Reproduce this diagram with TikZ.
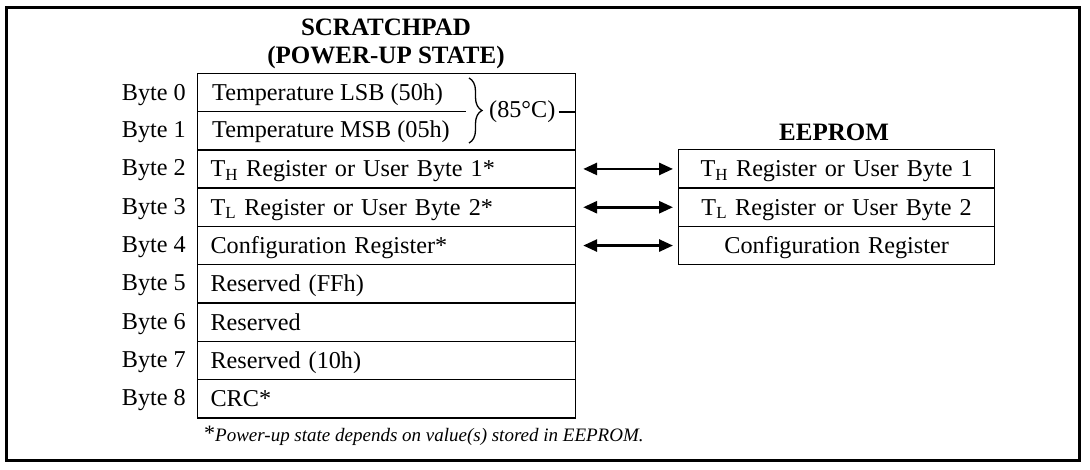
\documentclass[tikz,border=0pt]{standalone}
\usepackage{fontspec}
\setmainfont{Liberation Serif}
\usetikzlibrary{decorations.pathreplacing,arrows.meta}
\begin{document}
\begin{tikzpicture}[x=1pt,y=-1pt,
  txt/.style={font=\fontsize{24.2}{28}\selectfont, inner sep=0pt},
  ttl/.style={font=\fontsize{25}{28}\selectfont\bfseries, inner sep=0pt, align=center},
  bytelbl/.style={txt, anchor=base east},
  cell/.style={txt, draw, line width=1.2pt, anchor=north west, minimum height=38.3pt,
    text height=19pt, text depth=3pt},
  scell/.style={cell, minimum width=378pt, text width=352pt, inner xsep=13pt, align=left},
  ecell/.style={cell, minimum width=316pt, text width=316pt, align=center},
  link/.style={line width=2.8pt, {Triangle[length=14pt,width=12pt]}-{Triangle[length=14pt,width=12pt]},
    shorten <=7pt, shorten >=5pt}
]
% page and outer frame
\useasboundingbox (0,0) rectangle (1090,470);
\draw[line width=3pt] (6,8) rectangle (1079,460);

% scratchpad heading
\node[ttl] (shead) at (386,44) {SCRATCHPAD\\(POWER-UP STATE)};

% bytes 0 and 1 share one frame, split by a short rule
\node[draw, line width=1.2pt, anchor=north west, minimum width=378pt, minimum height=76.6pt, inner sep=0pt] (s01) at (197,73) {};
\node[txt, anchor=base west] (s0) at (212,101) {Temperature LSB (50h)};
\node[txt, anchor=base west] (s1) at (212,138) {Temperature MSB (05h)};
\coordinate (midL) at (197,111.3);
\coordinate (midR) at (466,111.3);
\draw[line width=1.2pt] (midL) -- (midR);

% brace grouping the temperature bytes
\coordinate (brT) at (469,78);
\coordinate (brB) at (469,143);
\draw[line width=1.3pt, decoration={brace, amplitude=13pt}, decorate] (brT) -- (brB);
\node[txt, anchor=west] (t85) at (489,112) {(85°C)};
\draw[line width=1.2pt] ([xshift=3pt]t85.east) -- (t85.east -| s01.east);

% remaining scratchpad bytes
\node[scell] (s2) at (197,149.2) {T\textsubscript{H} Register or User Byte 1*};
\node[scell] (s3) at (197,187.5) {T\textsubscript{L} Register or User Byte 2*};
\node[scell] (s4) at (197,225.8) {Configuration Register*};
\node[scell] (s5) at (197,264.1) {Reserved (FFh)};
\node[scell] (s6) at (197,302.4) {Reserved};
\node[scell] (s7) at (197,340.7) {Reserved (10h)};
\node[scell] (s8) at (197,379.0) {CRC*};

% byte numbers
\node[bytelbl] (b0) at (186,101) {Byte 0};
\node[bytelbl] (b1) at (186,138) {Byte 1};
\node[bytelbl] (b2) at (186,176) {Byte 2};
\node[bytelbl] (b3) at (186,214.3) {Byte 3};
\node[bytelbl] (b4) at (186,252.6) {Byte 4};
\node[bytelbl] (b5) at (186,290.9) {Byte 5};
\node[bytelbl] (b6) at (186,329.2) {Byte 6};
\node[bytelbl] (b7) at (186,367.5) {Byte 7};
\node[bytelbl] (b8) at (186,405.8) {Byte 8};

% EEPROM
\node[ttl] (ehead) at (834,132) {EEPROM};
\node[ecell] (e2) at (678,149.2) {T\textsubscript{H} Register or User Byte 1};
\node[ecell] (e3) at (678,187.5) {T\textsubscript{L} Register or User Byte 2};
\node[ecell] (e4) at (678,225.8) {Configuration Register};

% copy paths between scratchpad and EEPROM
\draw[link] (s2.east) -- (e2.west);
\draw[link] (s3.east) -- (e3.west);
\draw[link] (s4.east) -- (e4.west);

% footnote
\node[anchor=base west, inner sep=0pt, font=\fontsize{19}{22}\selectfont] (fn) at (204,441)
  {\raisebox{1pt}{\fontsize{22}{22}\selectfont*}\textit{Power-up state depends on value(s) stored in EEPROM.}};
\end{tikzpicture}
\end{document}
